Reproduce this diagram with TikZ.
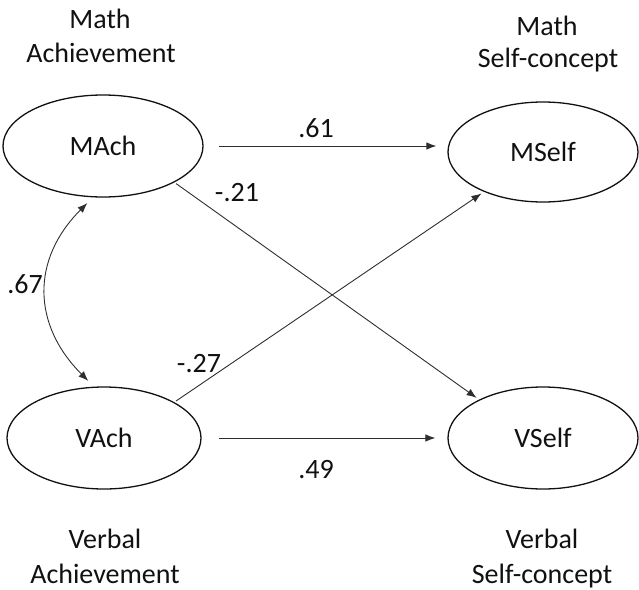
\documentclass[tikz,border=0pt]{standalone}
\usepackage{fontspec}
\setmainfont{Carlito}
\usetikzlibrary{shapes.geometric,arrows.meta}
\definecolor{ink}{HTML}{111111}
\definecolor{wire}{HTML}{2E2E2E}
\tikzset{
  latent/.style={ellipse, draw=ink, line width=1.3pt, inner sep=0pt,
    text=ink, font=\fontsize{28}{33}\selectfont},
  caption/.style={anchor=base, text=ink, inner sep=0pt,
    font=\fontsize{28}{33}\selectfont},
  coef/.style={anchor=base, text=ink, inner sep=0pt,
    font=\fontsize{28}{33}\selectfont},
  path/.style={draw=wire, line width=0.9pt,
    -{Latex[length=10pt,width=7.5pt]}},
  corr/.style={draw=wire, line width=0.9pt,
    {Latex[length=10pt,width=7.5pt]}-{Latex[length=10pt,width=7.5pt]}}
}
\begin{document}
\begin{tikzpicture}[x=1pt,y=-1pt]
  \useasboundingbox (0,0) rectangle (639,589);

  % latent constructs
  \node[latent, minimum width=200pt, minimum height=102pt] (MAch)  at (103,146) {MAch};
  \node[latent, minimum width=190pt, minimum height=100pt] (MSelf) at (543,152) {MSelf};
  \node[latent, minimum width=194pt, minimum height=102pt] (VAch)  at (104,438) {VAch};
  \node[latent, minimum width=190pt, minimum height=102pt] (VSelf) at (543,438) {VSelf};

  % construct captions
  \node[caption] (capMA1) at (100,28)  {Math};
  \node[caption] (capMA2) at (101,62)  {Achievement};
  \node[caption] (capMS1) at (547,35)  {Math};
  \node[caption] (capMS2) at (548,67)  {Self-concept};
  \node[caption] (capVA1) at (105,548) {Verbal};
  \node[caption] (capVA2) at (105,583) {Achievement};
  \node[caption] (capVS1) at (542,548) {Verbal};
  \node[caption] (capVS2) at (542,583) {Self-concept};

  % structural paths
  \draw[path, shorten <=15pt, shorten >=11pt] (MAch.east) -- (MAch.east -| MSelf.west);
  \draw[path, shorten <=17pt, shorten >=12pt] (VAch.east) -- (VAch.east -| VSelf.west);
  \draw[path, shorten <=2pt, shorten >=3pt] (MAch.-27) -- (VSelf.149);
  \draw[path, shorten <=2pt, shorten >=3pt] (VAch.27) -- (MSelf.-146);

  % correlation between the achievement factors
  \draw[corr, shorten <=8pt, shorten >=8pt]
    (MAch.-101) .. controls +(-62,62) and +(-62,-62) .. (VAch.101);

  % coefficients
  \node[coef] (c61) at (316,137) {.61};
  \node[coef] (c21) at (237,201) {-.21};
  \node[coef] (c27) at (199,372) {-.27};
  \node[coef] (c49) at (316,478) {.49};
  \node[coef] (c67) at (25,293)  {.67};
\end{tikzpicture}
\end{document}
